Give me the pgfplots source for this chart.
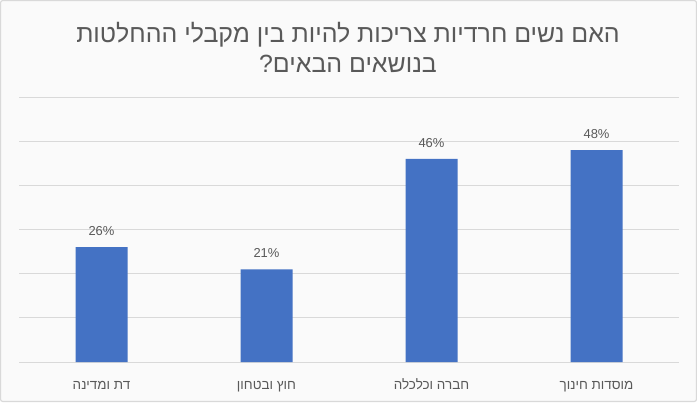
\documentclass[border=0pt]{standalone}
\usepackage{fontspec}
\setmainfont{Liberation Sans}
\newfontfamily\hebfont[Script=Hebrew]{Liberation Sans}
\TeXXeTstate=1
\usepackage{pgfplots}
\pgfplotsset{compat=1.18}
\definecolor{barblue}{HTML}{4472C4}
\definecolor{txtgrey}{HTML}{595959}
\definecolor{gridgrey}{HTML}{D9D9D9}
\definecolor{bggrey}{HTML}{FAFAFA}
\begin{document}
\begin{tikzpicture}[x=1bp,y=1bp]
\draw[gridgrey, fill=bggrey, line width=1.2bp, rounded corners=2bp] (0.6,0.6) rectangle (696.4,401.4);
\node[txtgrey, align=center, font=\hebfont\fontsize{25}{30}\selectfont] at (348,355) {\beginR האם נשים חרדיות צריכות להיות בין מקבלי ההחלטות\endR\\\beginR בנושאים הבאים?\endR};
\begin{axis}[
  at={(19bp,40bp)}, anchor=south west,
  scale only axis, width=660bp, height=265bp,
  xmin=-0.5, xmax=3.5, ymin=0, ymax=60,
  axis line style={draw=none},
  ytick={0,10,...,60}, yticklabels={},
  ymajorgrids, grid style={gridgrey, line width=0.9bp},
  major tick length=0pt,
  xtick={0,1,2,3},
  xticklabels={{\beginR דת ומדינה\endR},{\beginR חוץ ובטחון\endR},{\beginR חברה וכלכלה\endR},{\beginR מוסדות חינוך\endR}},
  xticklabel style={txtgrey, font=\hebfont\fontsize{13.5}{15}\selectfont, text height=10bp, text depth=3bp, yshift=-14bp},
  ybar, bar width=52bp,
  /pgf/number format/assume math mode=true,
  nodes near coords={\pgfmathprintnumber\pgfplotspointmeta\%},
  nodes near coords style={txtgrey, font=\fontsize{13}{15}\selectfont, yshift=8bp},
  clip=false,
]
\addplot[fill=barblue, draw=none] coordinates {(0,26) (1,21) (2,46) (3,48)};
\end{axis}
\end{tikzpicture}
\end{document}
